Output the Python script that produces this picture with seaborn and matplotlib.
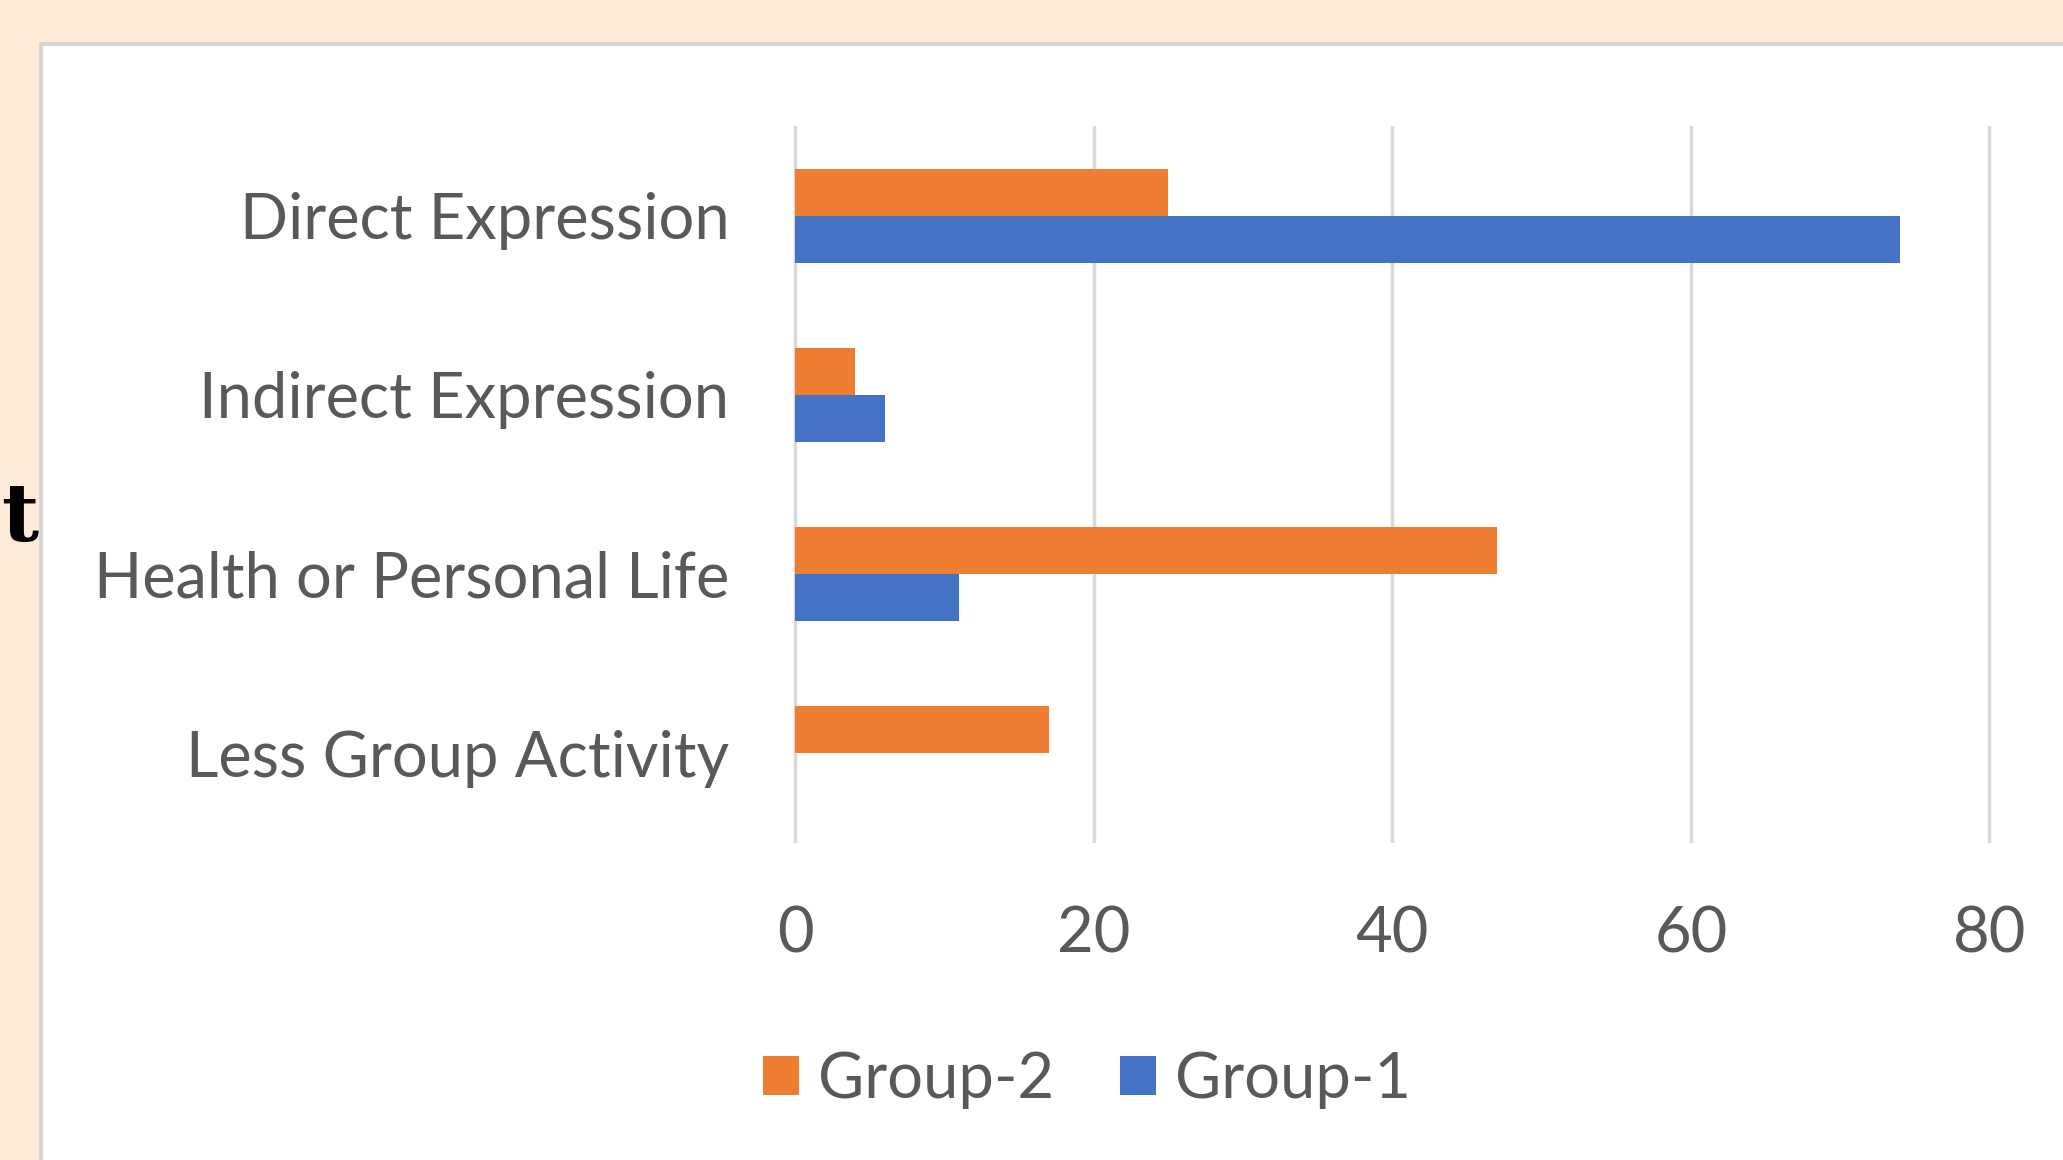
import numpy as np
import pandas as pd
import seaborn as sns
import matplotlib.pyplot as plt
from matplotlib.patches import Rectangle, Patch

sns.set_theme(style="white")
plt.rcParams['font.family'] = ['Lato', 'DejaVu Sans']

# data
categories = ['Direct Expression', 'Indirect Expression', 'Health or Personal Life', 'Less Group Activity']
group2 = [25, 4, 47, 17]
group1 = [74, 6, 11, 0]
groups = ['Group-2', 'Group-1']
colors = ['#ED7D31', '#4472C4']
xticks = [0, 20, 40, 60, 80]

df = pd.DataFrame({
    'category': categories * 2,
    'value': group2 + group1,
    'group': ['Group-2'] * len(categories) + ['Group-1'] * len(categories),
})

W, H = 2063, 1160
fs = 45.5
fig = plt.figure(figsize=(W / 100, H / 100), dpi=100, facecolor='#FEEBD7')

# white chart panel with grey border, cut off at right and bottom
fig.add_artist(Rectangle((41 / W, -0.1), 1.2, 1 - 43.5 / H + 0.1, transform=fig.transFigure,
                         facecolor='white', edgecolor='#D6D6D6', linewidth=3, zorder=-5))
# stray letter from the page
fig.text(38 / W, 1 - 519 / H, 't', ha='right', va='center', fontsize=58, fontweight='bold',
         family='DejaVu Serif', color='black')

px = 14.93  # pixels per unit
x0 = 795
left = x0 - 0.5 * px
width = 81 * px
top, bottom = 126, 843
ax = fig.add_axes([left / W, 1 - bottom / H, width / W, (bottom - top) / H])
ax.set_facecolor('none')
ax.set_zorder(2)

sns.barplot(data=df, y='category', x='value', hue='group', hue_order=groups,
            palette=colors, orient='h', width=0.525, saturation=1, linewidth=0,
            ax=ax, legend=False)

ax.set_xlim(-0.5, 80.5)
ax.set_ylim(3.5, -0.5)
ax.set_xticks(xticks)
ax.xaxis.grid(True, color='#D9D9D9', linewidth=2.5)
ax.set_axisbelow(True)
for s in ax.spines.values():
    s.set_visible(False)
ax.set_xlabel('')
ax.set_ylabel('')
ax.tick_params(axis='x', length=0, pad=45, labelsize=fs, labelcolor='#595959')
ax.tick_params(axis='y', length=0, pad=42, labelsize=fs, labelcolor='#595959')

handles = [Patch(facecolor=c, edgecolor='none') for c in colors]
fig.legend(handles, groups, loc='center', bbox_to_anchor=(1087 / W, 1 - 1080 / H), ncol=2,
           frameon=False, fontsize=fs, labelcolor='#595959', handlelength=0.57, handleheight=0.57,
           handletextpad=0.3, columnspacing=1.05)

fig.savefig('out.png', dpi=100, facecolor=fig.get_facecolor())
